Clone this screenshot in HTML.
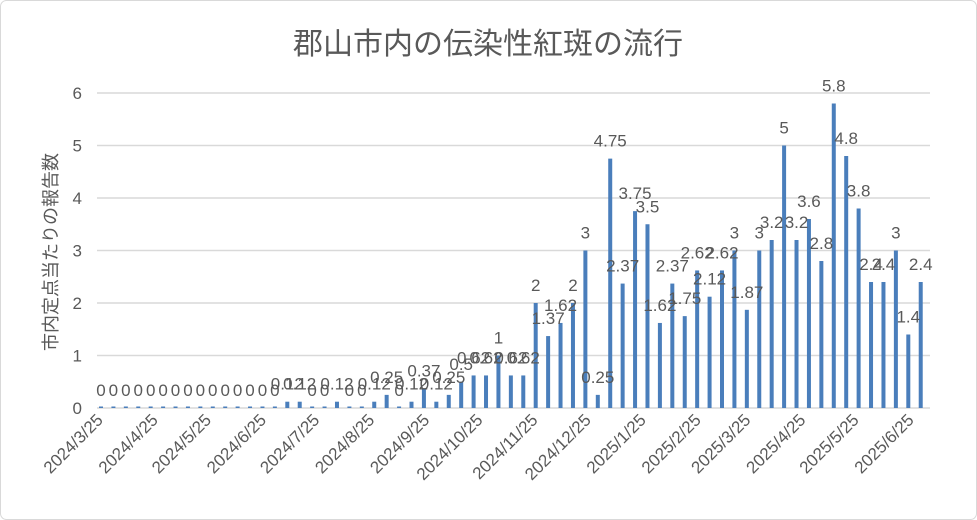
<!DOCTYPE html>
<html><head><meta charset="utf-8"><style>
body{margin:0;background:#fff}
svg{display:block;font-family:"Liberation Sans","Noto Sans CJK JP",sans-serif}
</style></head><body>
<svg id="chart" width="977" height="520" viewBox="0 0 977 520" xmlns="http://www.w3.org/2000/svg">
<rect x="0.5" y="0.5" width="976" height="519" rx="6" fill="#fff" stroke="#d9d9d9"/>
<text x="488" y="54" text-anchor="middle" font-size="30" fill="#595959">郡山市内の伝染性紅斑の流行</text>
<text transform="translate(57,252) rotate(-90)" text-anchor="middle" font-size="18" fill="#595959">市内定点当たりの報告数</text>
<g id="grid"></g><g id="bars"></g><g id="labels"></g><g id="yt"></g><g id="xt"></g>
</svg>
<script>
const values=[0,0,0,0,0,0,0,0,0,0,0,0,0,0,0,0.12,0.12,0,0,0.12,0,0,0.12,0.25,0,0.12,0.37,0.12,0.25,0.5,0.62,0.62,1,0.62,0.62,2,1.37,1.62,2,3,0.25,4.75,2.37,3.75,3.5,1.62,2.37,1.75,2.62,2.12,2.62,3,1.87,3,3.2,5,3.2,3.6,2.8,5.8,4.8,3.8,2.4,2.4,3,1.4,2.4];
const yTicks=[0,1,2,3,4,5,6];
const xTickLabels=["2024/3/25","2024/4/25","2024/5/25","2024/6/25","2024/7/25","2024/8/25","2024/9/25","2024/10/25","2024/11/25","2024/12/25","2025/1/25","2025/2/25","2025/3/25","2025/4/25","2025/5/25","2025/6/25"];
const startDate="2024/3/25";
const NS="http://www.w3.org/2000/svg";
const x0=101,step=12.42,left=97,right=930,yBase=408,pxPerUnit=52.5;
const xs=i=>x0+i*step;
const ys=v=>yBase-v*pxPerUnit;
function parseD(s){const p=s.split("/").map(Number);return Date.UTC(p[0],p[1]-1,p[2]);}
const xd=s=>x0+(parseD(s)-parseD(startDate))/86400000/7*step;
function mk(tag,attrs,parent){const e=document.createElementNS(NS,tag);for(const k in attrs)e.setAttribute(k,attrs[k]);document.getElementById(parent).appendChild(e);return e;}
yTicks.forEach(t=>{
 const l=mk("line",{x1:left,x2:right,y1:ys(t),y2:ys(t),stroke:"#d9d9d9","stroke-width":1.5},"grid");
 
 
 const tx=mk("text",{x:82,y:ys(t)+6,"text-anchor":"end","font-size":17,fill:"#595959"},"yt");
 tx.textContent=t;
 
 
});
values.forEach((v,i)=>{
 const h=Math.max(v*pxPerUnit,1.5);
 const r=mk("rect",{x:xs(i)-2,y:yBase-h,width:4,height:h,fill:"#4a7ebb"},"bars");
 
 
 const t=mk("text",{x:xs(i),y:ys(v)-12,"text-anchor":"middle","font-size":17,fill:"#595959"},"labels");
 t.textContent=v;
 
 
});
xTickLabels.forEach(s=>{
 const x=xd(s)+3;
 const t=mk("text",{transform:`translate(${x},${yBase+13}) rotate(-45)`,"text-anchor":"end","font-size":17,fill:"#595959"},"xt");
 t.textContent=s;
 
 
});
</script>
</body></html>
